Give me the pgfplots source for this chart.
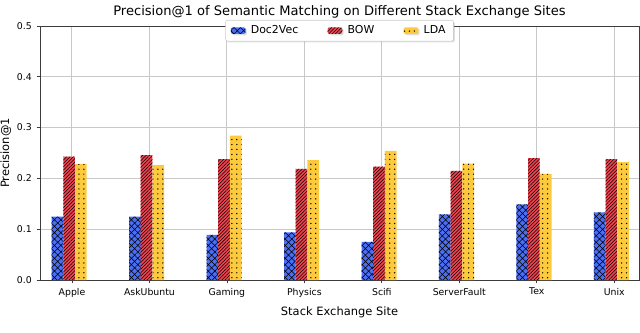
\documentclass[border=0pt]{standalone}
\usepackage{fontspec}
\setmainfont{DejaVu Sans}
\usepackage{pgfplots}
\pgfplotsset{compat=1.18}
\usetikzlibrary{patterns.meta,shadows}

\definecolor{dvblue}{RGB}{74,110,245}
\definecolor{bowred}{RGB}{240,68,80}
\definecolor{ldayellow}{RGB}{253,202,62}
\definecolor{gridgray}{RGB}{200,200,200}
\definecolor{spine}{RGB}{60,60,60}

\begin{document}
\begin{tikzpicture}
\begin{axis}[
    name=ax,
    scale only axis,
    width=449.25pt,
    height=190.5pt,
    ybar,
    bar width=0.151,
    xmin=-0.413, xmax=7.32,
    ymin=0, ymax=0.5,
    xtick={0,1,2,3,4,5,6,7},
    xticklabels={Apple,AskUbuntu,Gaming,Physics,Scifi,ServerFault,Tex,Unix},
    ytick={0,0.1,0.2,0.3,0.4,0.5},
    yticklabel style={/pgf/number format/.cd, fixed, fixed zerofill, precision=1, assume math mode=true},
    ticklabel style={font=\fontsize{7}{8}\selectfont},
    tick pos=left,
    tick align=outside,
    major tick length=2.6pt,
    tick style={spine, line width=0.6pt},
    axis line style={spine, line width=0.75pt},
    grid=major,
    grid style={gridgray, line width=0.75pt},
    title={Precision@1 of Semantic Matching on Different Stack Exchange Sites},
    title style={font=\fontsize{9.8}{11}\selectfont, yshift=-4pt},
    xlabel={Stack Exchange Site},
    ylabel={Precision@1},
    label style={font=\fontsize{8.6}{10}\selectfont},
    ylabel style={yshift=-2.5pt},
    legend columns=3,
    legend style={at={(0.5,1)}, anchor=north, yshift=4.5pt,
        draw=gray!40, fill=white, rounded corners=1.5pt,
        drop shadow={shadow xshift=1pt, shadow yshift=-1pt, opacity=0.25},
        font=\fontsize{8.2}{9}\selectfont,
        /tikz/every even column/.append style={column sep=20pt},
        /tikz/every odd column/.append style={column sep=2pt},
        inner ysep=2pt, inner xsep=4pt},
    legend image code/.code={\fill[#1] (0pt,-2.5pt) rectangle (11pt,2.5pt);},
]

\addplot[bar shift=-0.187, fill=dvblue, draw=none,
    postaction={pattern={Hatch[angle=45,distance=3.4pt,line width=0.4pt]}, pattern color=black}]
    coordinates {
        (0,0.125) (1,0.125) (2,0.089) (3,0.094) (4,0.075) (5,0.129) (6,0.149) (7,0.133)
    };

\addplot[bar shift=-0.037, fill=bowred, draw=none,
    postaction={pattern={Lines[angle=45,distance=1.8pt,line width=0.4pt]}, pattern color=black}]
    coordinates {
        (0,0.243) (1,0.246) (2,0.238) (3,0.219) (4,0.223) (5,0.215) (6,0.240) (7,0.238)
    };

\addplot[bar shift=0.115, fill=ldayellow, draw=none,
    postaction={pattern={Dots[distance=3.7pt,radius=0.55pt]}, pattern color=black}]
    coordinates {
        (0,0.228) (1,0.226) (2,0.284) (3,0.236) (4,0.254) (5,0.229) (6,0.209) (7,0.232)
    };

\legend{Doc2Vec, BOW, LDA}
\end{axis}
\pgfresetboundingbox
\path[use as bounding box] ([xshift=-30pt,yshift=-39pt]ax.south west) rectangle ([xshift=0.75pt,yshift=19.5pt]ax.north east);
\end{tikzpicture}
\end{document}
